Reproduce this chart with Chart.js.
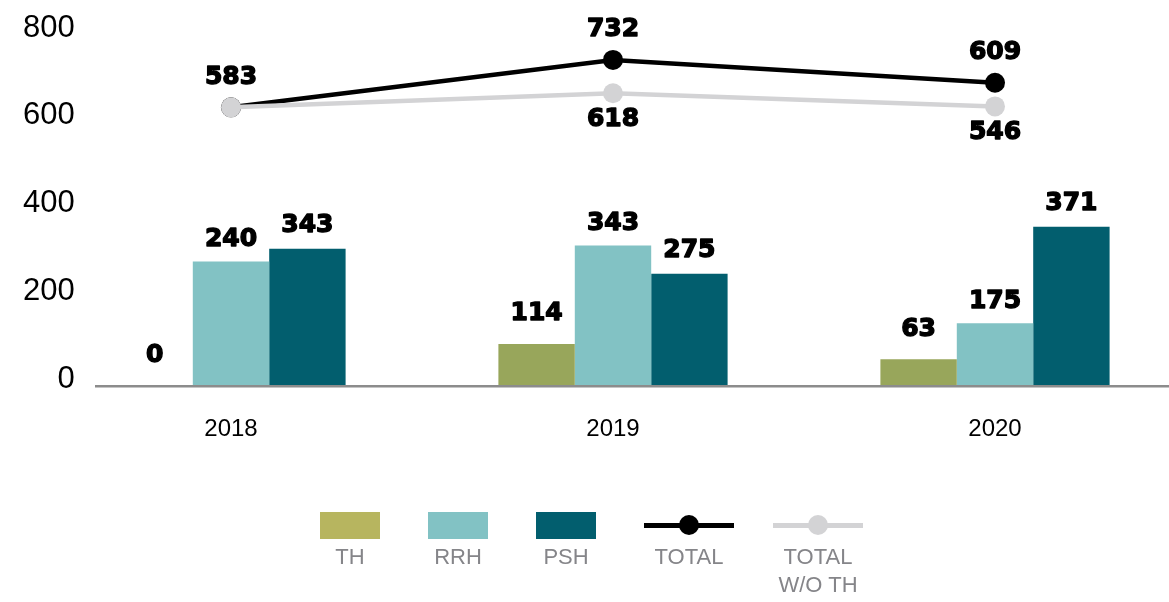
<!DOCTYPE html>
<html>
<head>
<meta charset="utf-8">
<title>TH / RRH / PSH</title>
<script src="https://cdn.jsdelivr.net/npm/chart.js@4.4.1/dist/chart.umd.min.js"></script>
<style>
    html, body { margin: 0; padding: 0; background: #fff; }
    #wrap { position: relative; width: 1169px; height: 602px; }
    #legenda {
        position: absolute; left: 320px; top: 512px;
        display: flex; gap: 48px;
        font-family: 'Liberation Sans', Arial, sans-serif;
        font-size: 22px; line-height: 28px; color: #858589;
    }
    .item { display: flex; flex-direction: column; align-items: center; text-align: center; }
    .item:last-child { margin-left: -9px; }
    .item .swatch { height: 27px; }
    .item .txt { margin-top: 4px; }
    .line-swatch { position: relative; width: 90px; height: 27px; }
    .line-swatch .bar { position: absolute; left: 0; right: 0; top: 11px; height: 5px; }
    .line-swatch .dot { position: absolute; left: 35px; top: 3px; width: 20px; height: 20px; border-radius: 50%; }
</style>
</head>
<body>
<div id="wrap">
    <canvas id="grafico" width="1169" height="602"></canvas>
    <div id="legenda"></div>
</div>
<script>
    /* ==========================================================================
       DADOS
       Alturas desenhadas e rótulos impressos não coincidem na figura original,
       por isso os rótulos ficam em listas próprias.
       ========================================================================== */
    const anos = ['2018', '2019', '2020'];

    // alturas desenhadas, lidas no eixo
    const thValores   = [0, 94, 59];
    const rrhValores  = [282, 318, 141];
    const pshValores  = [311, 254, 361];
    const totalValores   = [633, 741, 689];
    const semThValores   = [633, 665, 635];

    // números impressos sobre as marcas
    const thRotulos   = [0, 114, 63];
    const rrhRotulos  = [240, 343, 175];
    const pshRotulos  = [343, 275, 371];
    const totalRotulos   = [583, 732, 609];
    const semThRotulos   = [null, 618, 546];

    const ticksY = [0, 200, 400, 600, 800];

    const cores = {
        th: '#98a65b',
        thLegenda: '#b7b55f',
        rrh: '#82c2c4',
        psh: '#025e6e',
        total: '#000000',
        semTh: '#d3d3d5'
    };

    // o eixo x da figura passa um pouco da borda direita
    const excessoDireita = 17;

    Chart.defaults.font.family = "'Liberation Sans', Arial, sans-serif";
    Chart.defaults.color = '#000';

    /* ==========================================================================
       PLUGINS: largura do eixo x, linha base e rótulos de valor
       ========================================================================== */
    const esticaEixoX = {
        id: 'esticaEixoX',
        afterLayout(chart) {
            const x = chart.scales.x;
            x.right = chart.width + excessoDireita;
            x.width = x.right - x.left;
            x.configure();
        }
    };

    const linhaBase = {
        id: 'linhaBase',
        afterDatasetsDraw(chart) {
            const { ctx, scales: { y } } = chart;
            const yy = y.getPixelForValue(0) + 1;
            ctx.save();
            ctx.strokeStyle = '#8c8c8c';
            ctx.lineWidth = 2.5;
            ctx.beginPath();
            ctx.moveTo(95, yy);
            ctx.lineTo(chart.width, yy);
            ctx.stroke();
            ctx.restore();
        }
    };

    const rotulosValor = {
        id: 'rotulosValor',
        afterDatasetsDraw(chart) {
            const { ctx } = chart;
            ctx.save();
            ctx.font = "bold 25px 'DejaVu Sans'";
            ctx.fillStyle = '#000';
            ctx.strokeStyle = '#000';
            ctx.lineWidth = 1.4;
            ctx.lineJoin = 'round';
            ctx.textAlign = 'center';
            ctx.textBaseline = 'middle';
            chart.data.datasets.forEach((ds, i) => {
                const meta = chart.getDatasetMeta(i);
                meta.data.forEach((el, j) => {
                    const txt = ds.rotulos[j];
                    if (txt === null || txt === undefined) return;
                    const dy = ds.posRotulo === 'abaixo' ? ds.folga : -ds.folga;
                    ctx.strokeText(String(txt), el.x, el.y + dy);
                    ctx.fillText(String(txt), el.x, el.y + dy);
                });
            });
            ctx.restore();
        }
    };

    /* ==========================================================================
       GRÁFICO
       ========================================================================== */
    const datasets = [
        {
            type: 'line', label: 'TOTAL W/O TH', data: semThValores, rotulos: semThRotulos,
            posRotulo: 'abaixo', folga: 26, order: 0,
            borderColor: cores.semTh, backgroundColor: cores.semTh, borderWidth: 4.5,
            pointRadius: 10, pointBorderWidth: 0, pointBackgroundColor: cores.semTh
        },
        {
            type: 'line', label: 'TOTAL', data: totalValores, rotulos: totalRotulos,
            posRotulo: 'acima', folga: 30, order: 1,
            borderColor: cores.total, backgroundColor: cores.total, borderWidth: 4.5,
            pointRadius: 10, pointBorderWidth: 0, pointBackgroundColor: cores.total
        },
        { type: 'bar', label: 'TH', data: thValores, rotulos: thRotulos, posRotulo: 'acima', folga: 30, order: 2,
          backgroundColor: cores.th, legenda: cores.thLegenda },
        { type: 'bar', label: 'RRH', data: rrhValores, rotulos: rrhRotulos, posRotulo: 'acima', folga: 22, order: 2,
          backgroundColor: cores.rrh },
        { type: 'bar', label: 'PSH', data: pshValores, rotulos: pshRotulos, posRotulo: 'acima', folga: 23, order: 2,
          backgroundColor: cores.psh }
    ];

    new Chart(document.getElementById('grafico'), {
        data: { labels: anos, datasets },
        options: {
            responsive: false,
            animation: false,
            layout: { autoPadding: false, padding: { left: 40, right: 0, top: 34, bottom: 128 } },
            datasets: { bar: { categoryPercentage: 0.6, barPercentage: 1.0 } },
            plugins: { legend: { display: false }, tooltip: { enabled: false } },
            scales: {
                x: {
                    grid: { display: false, drawTicks: false },
                    border: { display: false },
                    ticks: { font: { size: 24 }, color: '#000', padding: 30 }
                },
                y: {
                    min: 0, max: 800,
                    afterBuildTicks: (s) => { s.ticks = ticksY.map(v => ({ value: v })); },
                    afterFit: (s) => { s.width = 0; },
                    grid: { display: false, drawTicks: false },
                    border: { display: false },
                    ticks: {
                        font: { size: 31 }, color: '#000',
                        mirror: true, crossAlign: 'far', padding: -17, labelOffset: -6
                    }
                }
            }
        },
        plugins: [esticaEixoX, linhaBase, rotulosValor]
    });

    /* ==========================================================================
       LEGENDA (HTML, texto abaixo de cada símbolo)
       ========================================================================== */
    const legenda = document.getElementById('legenda');
    const ordemLegenda = ['TH', 'RRH', 'PSH', 'TOTAL', 'TOTAL W/O TH'];
    ordemLegenda.forEach(nome => {
        const ds = datasets.find(d => d.label === nome);
        const item = document.createElement('div');
        item.className = 'item';
        if (ds.type === 'bar') {
            item.innerHTML = `<div class="swatch" style="width:60px;background:${ds.legenda || ds.backgroundColor}"></div>`;
        } else {
            item.innerHTML = `<div class="line-swatch"><div class="bar" style="background:${ds.borderColor}"></div>` +
                `<div class="dot" style="background:${ds.borderColor}"></div></div>`;
        }
        const txt = document.createElement('div');
        txt.className = 'txt';
        txt.style.width = ds.type === 'bar' ? '60px' : '90px';
        txt.textContent = nome;
        item.appendChild(txt);
        legenda.appendChild(item);
    });
</script>
</body>
</html>
